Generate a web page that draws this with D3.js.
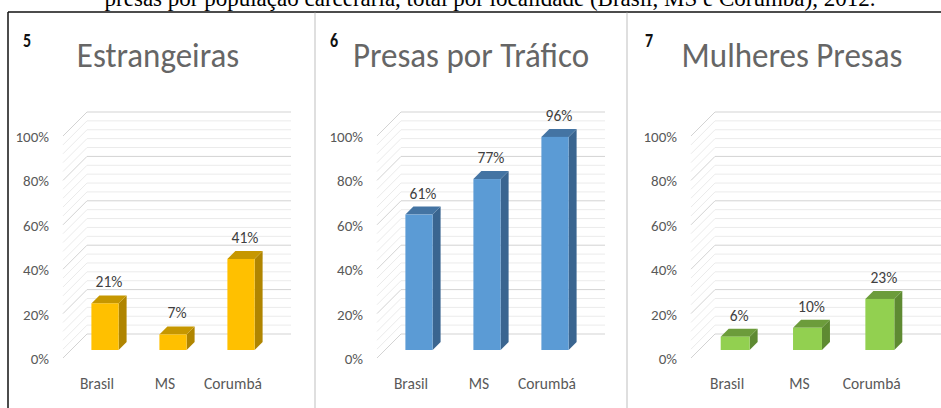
<!DOCTYPE html>
<html>
<head>
<meta charset="utf-8">
<script src="https://cdn.jsdelivr.net/npm/d3@7"></script>
<style>
  html, body { margin: 0; padding: 0; background: #fff; }
  svg { display: block; }
</style>
</head>
<body>
<div id="chart"></div>
<script>
// Data
const categories = ['Brasil', 'MS', 'Corumbá'];
const estrangeirasValues = [21, 7, 41];
const traficoValues = [61, 77, 96];
const mulheresValues = [6, 10, 23];
const yTickValues = [0, 20, 40, 60, 80, 100];
const panelTitles = ['Estrangeiras', 'Presas por Tráfico', 'Mulheres Presas'];
const panelNumbers = ['5', '6', '7'];
const captionText = 'presas por população carcerária, total por localidade (Brasil, MS e Corumbá), 2012.';

//////////////////////////////////////////////////////////////////////
// Layout
//////////////////////////////////////////////////////////////////////
const W = 941, H = 408;
const depth = 24;           // 3D depth of the chart floor (dx = dy)
const barFront = depth / 3; // bars sit in the middle third of the depth
const barBack = depth * 2 / 3;
const labelFont = "Carlito, Lato, 'Open Sans', sans-serif";

const panels = [
    {values: estrangeirasValues, floorX: 63, floorW: 204, gridRight: 291, titleX: 158, numX: 23,
     front: '#FFC000', top: '#C69700', side: '#B08500'},
    {values: traficoValues, floorX: 377, floorW: 204, gridRight: 605, titleX: 471, numX: 330,
     front: '#5B9BD5', top: '#4474A3', side: '#3A6590'},
    {values: mulheresValues, floorX: 691, floorW: 217, gridRight: 945, titleX: 792, numX: 645,
     front: '#92D050', top: '#6C9C3B', side: '#5E8A32'}
];

const svg = d3.select('#chart')
    .append('svg')
    .attr('width', W)
    .attr('height', H);

// Caption cut off at the top of the picture
svg.append('text')
    .attr('x', 490)
    .attr('y', 6)
    .attr('text-anchor', 'middle')
    .attr('font-family', "'Liberation Serif', 'Times New Roman', serif")
    .attr('font-size', 23)
    .attr('fill', '#000')
    .text(captionText);

// Frame: black top and left, gray panel dividers
svg.append('line')
    .attr('x1', 8).attr('x2', W).attr('y1', 12).attr('y2', 12)
    .attr('stroke', '#111').attr('stroke-width', 1.5);
svg.append('line')
    .attr('x1', 8).attr('x2', 8).attr('y1', 12).attr('y2', H)
    .attr('stroke', '#111').attr('stroke-width', 1.5);
[315, 627].forEach(x => {
    svg.append('line')
        .attr('x1', x).attr('x2', x).attr('y1', 12.75).attr('y2', H)
        .attr('stroke', '#d4d4d4').attr('stroke-width', 1.5);
});

// Text helper with vertical stretch like the source image
function stretchedText(g, x, y, txt, sy) {
    return g.append('text')
        .attr('transform', `translate(${x},${y}) scale(1,${sy})`)
        .text(txt);
}

const y = d3.scaleLinear()
    .domain([0, 100])
    .range([358, 136]);

const gridValues = d3.range(0, 101, 4);

panels.forEach((p, i) => {
    const g = svg.append('g');

    const x = d3.scaleBand()
        .domain(categories)
        .range([p.floorX, p.floorX + p.floorW]);
    const barW = x.bandwidth() * 0.4;

    // Panel number
    stretchedText(g, p.numX, 47, panelNumbers[i], 1.2)
        .attr('font-family', labelFont)
        .attr('font-weight', 700)
        .attr('font-size', 16)
        .attr('fill', '#111');

    // Title
    stretchedText(g, p.titleX, 67, panelTitles[i], 1.08)
        .attr('text-anchor', 'middle')
        .attr('font-family', labelFont)
        .attr('font-weight', 300)
        .attr('font-size', 33)
        .attr('fill', '#666');

    // Side wall + back wall gridlines
    g.selectAll('.grid')
        .data(gridValues)
        .enter()
        .append('path')
        .attr('class', 'grid')
        .attr('fill', 'none')
        .attr('stroke', d => d % 20 === 0 ? '#d3d3d3' : '#ebebeb')
        .attr('stroke-width', 1)
        .attr('d', d => {
            const yf = y(d);
            return `M${p.floorX},${yf}L${p.floorX + depth},${yf - depth}L${p.gridRight},${yf - depth}`;
        });

    // Y axis labels
    g.selectAll('.ytick')
        .data(yTickValues)
        .enter()
        .append('text')
        .attr('class', 'ytick')
        .attr('x', p.floorX - 14)
        .attr('y', d => y(d) + 6)
        .attr('text-anchor', 'end')
        .attr('font-family', labelFont)
        .attr('font-size', 15)
        .attr('fill', '#595959')
        .text(d => d + '%');

    // Bars in 3D
    const data = categories.map((c, j) => ({cat: c, value: p.values[j]}));
    const bars = g.selectAll('.bar')
        .data(data)
        .enter()
        .append('g')
        .attr('class', 'bar');

    const bx = d => x(d.cat) + x.bandwidth() / 2 - barW / 2 + barFront;
    const yb = y(0) - barFront;

    // side face
    bars.append('path')
        .attr('fill', p.side)
        .attr('d', d => {
            const x1 = bx(d) + barW, yt = y(d.value) - barFront;
            const dd = barBack - barFront;
            return `M${x1},${yb}L${x1},${yt}L${x1 + dd},${yt - dd}L${x1 + dd},${yb - dd}Z`;
        });
    // top face
    bars.append('path')
        .attr('fill', p.top)
        .attr('d', d => {
            const x0 = bx(d), yt = y(d.value) - barFront;
            const dd = barBack - barFront;
            return `M${x0},${yt}L${x0 + barW},${yt}L${x0 + barW + dd},${yt - dd}L${x0 + dd},${yt - dd}Z`;
        });
    // front face
    bars.append('rect')
        .attr('fill', p.front)
        .attr('x', d => bx(d))
        .attr('y', d => y(d.value) - barFront)
        .attr('width', barW)
        .attr('height', d => y(0) - y(d.value));

    // Value labels
    bars.append('text')
        .attr('x', d => bx(d) + barW / 2 + (barBack - barFront) / 2)
        .attr('y', d => y(d.value) - barBack - 8)
        .attr('text-anchor', 'middle')
        .attr('font-family', labelFont)
        .attr('font-size', 15.5)
        .attr('fill', '#404040')
        .text(d => d.value + '%');

    // Category labels
    g.selectAll('.cat')
        .data(categories)
        .enter()
        .append('text')
        .attr('class', 'cat')
        .attr('x', d => x(d) + x.bandwidth() / 2)
        .attr('y', 389)
        .attr('text-anchor', 'middle')
        .attr('font-family', labelFont)
        .attr('font-size', 15.5)
        .attr('fill', '#595959')
        .text(d => d);
});
</script>
</body>
</html>
